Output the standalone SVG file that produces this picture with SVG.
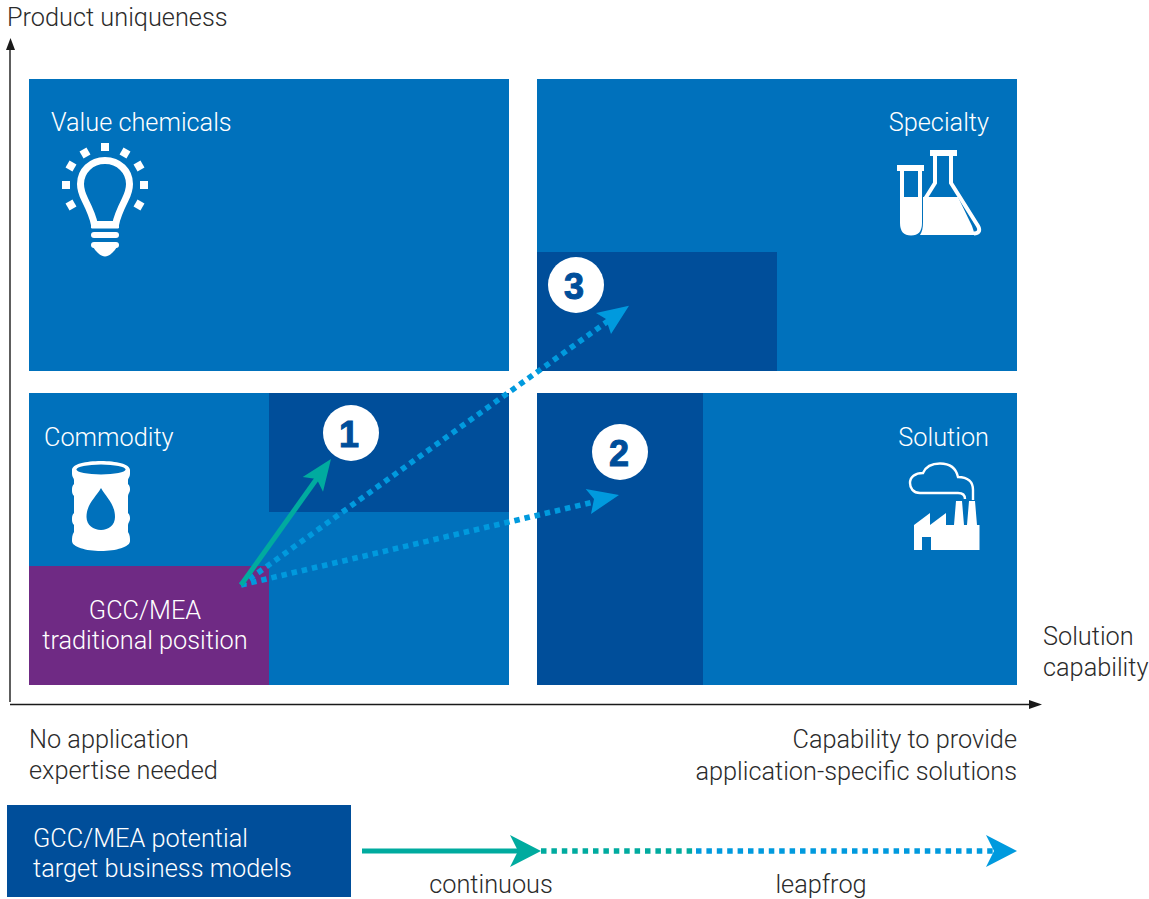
<svg xmlns="http://www.w3.org/2000/svg" width="1149" height="899" viewBox="0 0 1149 899">
<defs>
<style>
text{font-family:"Roboto","Liberation Sans",sans-serif;font-weight:300;font-size:25.3px;transform:translateY(.6px)}
.w{fill:#fff}.k{fill:#2b2b2b}
.q{fill:#0071bc}.d{fill:#004e9a}
.dot{fill:none;stroke:#009ade;stroke-width:5.600;stroke-dasharray:5.500 4.900}
.dt{fill:none;stroke:#00ab9f;stroke-width:5.600;stroke-dasharray:5.500 4.900}
.ax{fill:none;stroke:#1a1a1a;stroke-width:1.400}
.n{font-family:"Liberation Sans",sans-serif;font-weight:700;font-size:36px;fill:#004e9a;stroke:#004e9a;stroke-width:1;text-anchor:middle}
</style>
</defs>
<rect width="1149" height="899" fill="#fff"/>
<g id="quadrant-value"><rect class="q" x="29" y="79" width="480" height="292"/>
<text class="w" x="51" y="130">Value chemicals</text>
<g id="icon-bulb" fill="#fff">
<path d="M105 160.500C119 160.500 129.500 171 129.500 184C129.500 190 127.500 195 125 200C120 210 117 216 115.500 225H94.500C93 216 90 210 85 200C82.500 195 80.500 190 80.500 184C80.500 171 91 160.500 105 160.500Z" fill="none" stroke="#fff" stroke-width="7"/>
<rect x="91" y="221" width="28" height="7"/>
<rect x="91" y="232" width="28" height="6" rx="3"/><rect x="91" y="242" width="28" height="6" rx="3"/>
<path d="M93 247H117C113 253 109 256.500 105 256.500C101 256.500 97 253 93 247Z"/>
<rect x="101" y="143" width="8" height="8"/><rect x="62" y="181" width="8" height="8"/><rect x="140" y="181" width="8" height="8"/>
<rect x="81" y="149" width="8" height="8" transform="rotate(-30 85 153)"/><rect x="121" y="149" width="8" height="8" transform="rotate(30 125 153)"/>
<rect x="67" y="162" width="8" height="8" transform="rotate(-60 71 166)"/><rect x="135" y="162" width="8" height="8" transform="rotate(60 139 166)"/>
<rect x="67" y="201" width="8" height="8" transform="rotate(60 71 205)"/><rect x="135" y="201" width="8" height="8" transform="rotate(-60 139 205)"/>
</g></g>
<g id="quadrant-specialty"><rect class="q" x="537" y="79" width="480" height="292"/>
<rect class="d" x="537" y="252" width="240" height="119"/>
<text class="w" x="989" y="130" text-anchor="end">Specialty</text>
<g id="icon-flask" fill="#fff">
<rect x="897" y="165" width="27" height="6"/>
<rect x="930" y="150" width="27" height="6"/>
<path d="M902 170V223C902 230 905 233.500 911 233.500C917 233.500 920 230 920 223V170" fill="none" stroke="#fff" stroke-width="4"/>
<path d="M902 197H920V223C920 229 916 233 911 233C906 233 902 229 902 223Z"/>
<path d="M935 155V183L925 199" fill="none" stroke="#fff" stroke-width="4"/>
<path d="M951 155V183L978 226C981 231 978 233.500 974 233.500" fill="none" stroke="#fff" stroke-width="4"/>
<path d="M923 197H958L972 226L975 235H920C922 232 923 228 923 222Z"/>
</g></g>
<g id="quadrant-commodity"><rect class="q" x="29" y="393" width="480" height="292"/>
<rect class="d" x="269" y="393" width="240" height="119"/>
<rect x="29" y="566" width="240" height="119" fill="#6f2a84"/>
<text class="w" x="44" y="445">Commodity</text>
<g id="icon-barrel">
<path fill="#fff" d="M72 470C72 464 86 461 101 461C116 461 130 464 130 470V474C130 477 128 478 128 480V484C130 486 130 488 130 490C130 492 128 494 128 496V513C130 515 130 517 130 519C130 521 128 523 128 525V532C130 535 130 538 130 541C130 547 116 551 101 551C86 551 72 547 72 541C72 538 72 535 74 532V525C72 523 72 521 72 519C72 517 72 515 74 513V496C72 494 72 492 72 490C72 488 72 486 74 484V480C74 478 72 477 72 474Z"/>
<ellipse cx="101" cy="469.500" rx="24.500" ry="5" fill="#0071bc"/>
<path fill="#0071bc" d="M101 488C106 497 115 504 115 517C115 525 108.500 530 101 530C93.500 530 86.500 525 86.500 517C86.500 504 96 497 101 488Z"/>
</g></g>
<g id="quadrant-solution"><rect class="q" x="537" y="393" width="480" height="292"/>
<rect class="d" x="537" y="393" width="166" height="292"/>
<text class="w" x="989" y="445" text-anchor="end">Solution</text>
<g id="icon-factory">
<path d="M965 499C965 495 962 493 958 493H920C913 493 910 488 910 483C910 477 915 473 923 473C926 466 932 463.500 940 463.500C950 463.500 956 468 958 477C968 477 973 482 973 490V500" fill="none" stroke="#fff" stroke-width="2.400"/>
<path fill="#fff" d="M914 525L930 513V525L946 513V525H954L956 501H962L964 525H967L969 501H975L977 525H979.500V550H931V537H922V550H914Z"/>
</g></g>
<g id="node-gcc"><text class="w" x="145" y="618" text-anchor="middle">GCC/MEA</text><text class="w" x="145" y="648" text-anchor="middle">traditional position</text></g>
<g id="connectors">
<path class="dot" d="M241 585L608 321"/>
<path class="dot" d="M241 585L598 501"/>
<path d="M629 305.700L596 313L606 319L611 334Z" fill="#009ade"/>
<path d="M619 495L585.700 489L594 499L591 514Z" fill="#009ade"/>
<path d="M241 585L318 477" fill="none" stroke="#00ab9f" stroke-width="5"/>
<path d="M331 459L302.700 477L316.700 479L323 491.700Z" fill="#00ab9f"/>
<path class="ax" d="M10 702V45M10 704.500H1035"/>
<path d="M10.500 38L15 50H6Z" fill="#1a1a1a"/><path d="M1042 704.500L1029 700V709Z" fill="#1a1a1a"/>
<path d="M362 851H520" fill="none" stroke="#00ab9f" stroke-width="5"/>
<path d="M541 851L510 835L518 851L510 867Z" fill="#00ab9f"/>
<path class="dt" d="M541 851H696"/>
<path class="dot" d="M696 851H993"/>
<path d="M1017 851L986 835L994 851L986 867Z" fill="#009ade"/>
</g>
<g id="badge-1"><circle cx="351" cy="433" r="28" fill="#fff"/><text class="n" x="349" y="446">1</text></g>
<g id="badge-2"><circle cx="620" cy="452" r="28" fill="#fff"/><text class="n" x="619" y="465">2</text></g>
<g id="badge-3"><circle cx="576" cy="285" r="28" fill="#fff"/><text class="n" x="574" y="298">3</text></g>
<g id="axis-labels">
<text class="k" x="7" y="25">Product uniqueness</text>
<text class="k" x="1043" y="644">Solution</text><text class="k" x="1043" y="675">capability</text>
<text class="k" x="29" y="747">No application</text><text class="k" x="29" y="778">expertise needed</text>
<text class="k" x="1017" y="747" text-anchor="end">Capability to provide</text><text class="k" x="1017" y="779" text-anchor="end">application-specific solutions</text>
</g>
<g id="legend"><rect class="d" x="7" y="805" width="344" height="92"/>
<text class="w" x="33" y="846">GCC/MEA potential</text><text class="w" x="33" y="876">target business models</text>
<text class="k" x="491" y="892" text-anchor="middle">continuous</text><text class="k" x="821" y="892" text-anchor="middle">leapfrog</text></g>
</svg>
